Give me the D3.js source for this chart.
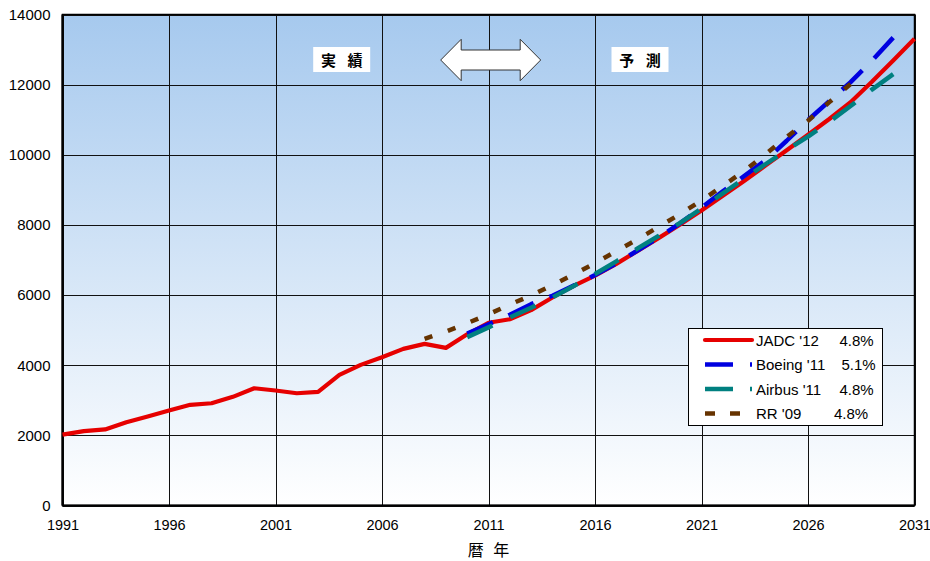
<!DOCTYPE html>
<html><head><meta charset="utf-8">
<script src="https://cdn.jsdelivr.net/npm/d3@7"></script>
<style>
body{margin:0;background:#fff}
svg{display:block}
text{font-family:"Liberation Sans",Arial,sans-serif;fill:#000}
.jp{font-family:"Noto Sans CJK JP","Noto Sans CJK SC",sans-serif}
</style>
</head><body>
<svg id="c" width="930" height="561"></svg>
<script>
// ---- data ----
const jadcYears = [1991,1992,1993,1994,1995,1996,1997,1998,1999,2000,2001,2002,2003,2004,2005,2006,2007,2008,2009,2010,2011,2012,2013,2014,2015,2016,2017,2018,2019,2020,2021,2022,2023,2024,2025,2026,2027,2028,2029,2030,2031];
const jadcValues = [2020,2120,2170,2375,2537,2708,2870,2916,3098,3343,3278,3200,3240,3725,4010,4227,4466,4608,4494,4880,5210,5310,5570,5930,6260,6555,6890,7260,7630,8010,8410,8830,9250,9690,10130,10570,11020,11500,12080,12690,13310];
const boeingYears = [2010,2011,2012,2013,2014,2015,2016,2017,2018,2019,2020,2021,2022,2023,2024,2025,2026,2027,2028,2029,2030];
const boeingValues = [4900,5170,5440,5740,5980,6270,6570,6900,7270,7650,8050,8490,8960,9390,9840,10400,10990,11530,12070,12680,13340];
const airbusYears = [2010,2011,2012,2013,2014,2015,2016,2017,2018,2019,2020,2021,2022,2023,2024,2025,2026,2027,2028,2029,2030];
const airbusValues = [4800,5080,5360,5640,5930,6260,6600,6960,7330,7690,8060,8470,8900,9320,9730,10130,10520,10940,11390,11860,12300];
const rrYears = [2008,2009,2010,2011,2012,2013,2014,2015,2016,2017,2018,2019,2020,2021,2022,2023,2024,2025,2026,2027,2028];
const rrValues = [4750,4960,5200,5450,5730,5990,6280,6590,6910,7250,7590,7950,8310,8700,9110,9540,10010,10510,10970,11500,12020];
const seriesNames = ["JADC '12","Boeing '11","Airbus '11","RR '09"];
const seriesRates = ["4.8%","5.1%","4.8%","4.8%"];
const xTickYears = [1991,1996,2001,2006,2011,2016,2021,2026,2031];
const yTickValues = [0,2000,4000,6000,8000,10000,12000,14000];
const xAxisTitle = "暦 年";
const labelActual = "実 績";
const labelForecast = "予 測";

// ---- layout ----
const L = 62.5, R = 914.5, T = 14.5, B = 505.5;
const svg = d3.select("#c");
const x = d3.scaleLinear().domain([1991,2031]).range([L,R]);
const y = d3.scaleLinear().domain([0,14000]).range([B,T]);

// background gradient
const defs = svg.append("defs");
const g = defs.append("linearGradient").attr("id","bg").attr("x1",0).attr("y1",0).attr("x2",0).attr("y2",1);
g.append("stop").attr("offset","0%").attr("stop-color","#a6c9ee");
g.append("stop").attr("offset","100%").attr("stop-color","#ffffff");
svg.append("rect").attr("x",L).attr("y",T).attr("width",R-L).attr("height",B-T).attr("fill","url(#bg)");

// gridlines
svg.append("g").selectAll("line").data(yTickValues).join("line")
  .attr("x1",L).attr("x2",R).attr("y1",d=>Math.round(y(d))+0.5).attr("y2",d=>Math.round(y(d))+0.5)
  .attr("stroke","#111").attr("stroke-width",1);
svg.append("g").selectAll("line").data(xTickYears).join("line")
  .attr("x1",d=>Math.round(x(d))+0.5).attr("x2",d=>Math.round(x(d))+0.5).attr("y1",T).attr("y2",B)
  .attr("stroke","#111").attr("stroke-width",1);
// border
svg.append("rect").attr("x",L).attr("y",T).attr("width",R-L).attr("height",B-T)
  .attr("fill","none").attr("stroke","#000").attr("stroke-width",1.5);
svg.append("line").attr("x1",L).attr("x2",R).attr("y1",B).attr("y2",B).attr("stroke","#000").attr("stroke-width",2.2);
svg.append("line").attr("x1",L).attr("x2",L).attr("y1",T).attr("y2",B).attr("stroke","#000").attr("stroke-width",2.2);

// axes labels via d3 axes
const yAxis = d3.axisLeft(y).tickValues(yTickValues).tickSize(0).tickPadding(12).tickFormat(d3.format("d"));
const ya = svg.append("g").attr("transform",`translate(${L},0)`).call(yAxis);
ya.select(".domain").remove();
ya.selectAll("text").attr("font-size",15).attr("font-family","'Liberation Sans',Arial,sans-serif").attr("fill","#000");
const xAxis = d3.axisBottom(x).tickValues(xTickYears).tickSize(0).tickPadding(14).tickFormat(d3.format("d"));
const xa = svg.append("g").attr("transform",`translate(0,${B})`).call(xAxis);
xa.select(".domain").remove();
xa.selectAll("text").attr("font-size",14.5).attr("font-family","'Liberation Sans',Arial,sans-serif").attr("fill","#000");

svg.append("text").attr("class","jp").attr("x",(L+R)/2).attr("y",556)
  .attr("text-anchor","middle").attr("font-size",16).attr("word-spacing","6px").text(xAxisTitle);

// series
const series = [
  {name:seriesNames[0], rate:seriesRates[0], years:jadcYears, values:jadcValues, color:"#e60000", width:4.2, dash:null},
  {name:seriesNames[1], rate:seriesRates[1], years:boeingYears, values:boeingValues, color:"#0000e0", width:4.5, dash:[28,17]},
  {name:seriesNames[2], rate:seriesRates[2], years:airbusYears, values:airbusValues, color:"#008080", width:4.5, dash:[27,19]},
  {name:seriesNames[3], rate:seriesRates[3], years:rrYears, values:rrValues, color:"#663300", width:4.5, dash:[8,16]}
];
const line = d3.line().x(d=>x(d[0])).y(d=>y(d[1]));
series.forEach(s=>{
  const pts = s.years.map((yr,i)=>[yr,s.values[i]]);
  const p = svg.append("path").datum(pts).attr("d",line).attr("fill","none")
    .attr("stroke",s.color).attr("stroke-width",s.width).attr("stroke-linejoin","round");
  if (s.dash){
    // fit the pattern so both ends of the line finish on a dash
    const len = p.node().getTotalLength();
    const per = s.dash[0]+s.dash[1];
    const n = Math.max(1, Math.round((len - s.dash[0]) / per));
    const k = len / (n*per + s.dash[0]);
    p.attr("stroke-dasharray", s.dash.map(v=>(v*k).toFixed(3)).join(","));
  }
});

// annotation boxes
function labelBox(cx, text){
  svg.append("rect").attr("x",cx-28.5).attr("y",47).attr("width",57).attr("height",25).attr("fill","#fff");
  svg.append("text").attr("class","jp").attr("x",cx).attr("y",65.5).attr("text-anchor","middle")
    .attr("font-size",15).attr("font-weight","bold").attr("word-spacing","8px").text(text);
}
labelBox(341.7, labelActual);
labelBox(640, labelForecast);

// double arrow
const ax1 = 440.7, ax2 = 540.7, acy = 60, head = 20.5, hh = 20.7, sh = 10;
const ap = [[ax1,acy],[ax1+head,acy-hh],[ax1+head,acy-sh],[ax2-head,acy-sh],[ax2-head,acy-hh],[ax2,acy],
            [ax2-head,acy+hh],[ax2-head,acy+sh],[ax1+head,acy+sh],[ax1+head,acy+hh]];
svg.append("path").attr("d","M"+ap.map(p=>p.join(",")).join("L")+"Z")
  .attr("fill","#fff").attr("stroke","#333").attr("stroke-width",1);

// legend
const lg = svg.append("g");
lg.append("rect").attr("x",688.5).attr("y",328.5).attr("width",194).attr("height",97)
  .attr("fill","#fff").attr("stroke","#000").attr("stroke-width",1);
const rowY = [340,364.5,389,413.5];
const rateX = [839.5,841.5,839.5,834];
series.forEach((s,i)=>{
  lg.append("line").attr("x1",705).attr("x2",752).attr("y1",rowY[i]).attr("y2",rowY[i])
    .attr("stroke",s.color).attr("stroke-width",s.width)
    .attr("stroke-dasharray", i===1||i===2 ? "28,17" : (i===3 ? "10,15" : null))
    .attr("stroke-linecap", i===0 ? "round" : "butt");
  lg.append("text").attr("x",756).attr("y",rowY[i]+5.5).attr("font-size",15).text(s.name);
  lg.append("text").attr("x",rateX[i]).attr("y",rowY[i]+5.5).attr("font-size",15).text(s.rate);
});
</script>
</body></html>
